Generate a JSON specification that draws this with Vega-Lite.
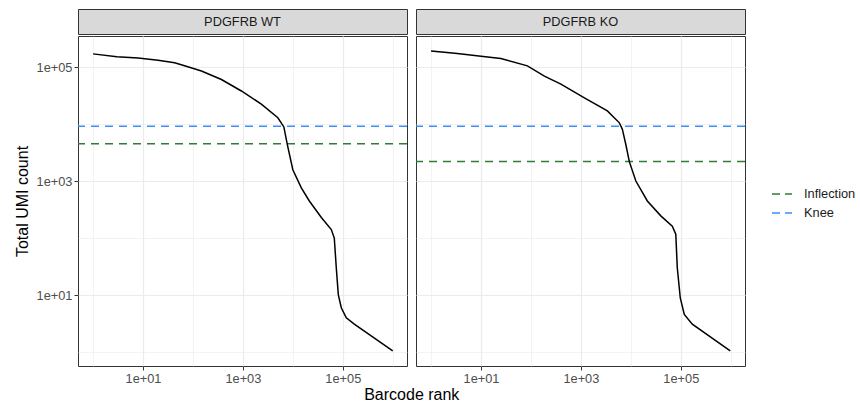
{
  "$schema": "https://vega.github.io/schema/vega-lite/v6.json",
  "background": "white",
  "padding": {"left": 13, "top": 8, "right": 0, "bottom": 0},
  "config": {
    "font": "Liberation Sans",
    "view": {"stroke": "#333333", "strokeWidth": 1},
    "axis": {
      "domain": false,
      "labelFont": "Liberation Sans",
      "labelFontSize": 12.8,
      "labelColor": "#4D4D4D",
      "tickColor": "#333333",
      "tickSize": 4,
      "labelPadding": 2,
      "titleFont": "Liberation Sans",
      "titleFontSize": 16,
      "titleFontWeight": "normal",
      "titleColor": "#000000",
      "gridColor": "#EBEBEB"
    }
  },
  "datasets": {
    "curve": [
      {"panel": "PDGFRB WT", "rank": 1, "umi": 170000},
      {"panel": "PDGFRB WT", "rank": 3, "umi": 151000},
      {"panel": "PDGFRB WT", "rank": 8, "umi": 144000},
      {"panel": "PDGFRB WT", "rank": 20, "umi": 132000},
      {"panel": "PDGFRB WT", "rank": 43, "umi": 119000},
      {"panel": "PDGFRB WT", "rank": 68, "umi": 105000},
      {"panel": "PDGFRB WT", "rank": 148, "umi": 85100},
      {"panel": "PDGFRB WT", "rank": 372, "umi": 60300},
      {"panel": "PDGFRB WT", "rank": 933, "umi": 38000},
      {"panel": "PDGFRB WT", "rank": 2340, "umi": 22400},
      {"panel": "PDGFRB WT", "rank": 5010, "umi": 12900},
      {"panel": "PDGFRB WT", "rank": 6610, "umi": 8900},
      {"panel": "PDGFRB WT", "rank": 7760, "umi": 4370},
      {"panel": "PDGFRB WT", "rank": 10000, "umi": 1580},
      {"panel": "PDGFRB WT", "rank": 14800, "umi": 760},
      {"panel": "PDGFRB WT", "rank": 21400, "umi": 447},
      {"panel": "PDGFRB WT", "rank": 37200, "umi": 229},
      {"panel": "PDGFRB WT", "rank": 58900, "umi": 141},
      {"panel": "PDGFRB WT", "rank": 67600, "umi": 100},
      {"panel": "PDGFRB WT", "rank": 74100, "umi": 30.2},
      {"panel": "PDGFRB WT", "rank": 81300, "umi": 10.2},
      {"panel": "PDGFRB WT", "rank": 93300, "umi": 6.0},
      {"panel": "PDGFRB WT", "rank": 117500, "umi": 3.98},
      {"panel": "PDGFRB WT", "rank": 170000, "umi": 3.09},
      {"panel": "PDGFRB WT", "rank": 1000000, "umi": 1.05},
      {"panel": "PDGFRB KO", "rank": 1, "umi": 190500},
      {"panel": "PDGFRB KO", "rank": 3, "umi": 173800},
      {"panel": "PDGFRB KO", "rank": 5, "umi": 166000},
      {"panel": "PDGFRB KO", "rank": 10, "umi": 154900},
      {"panel": "PDGFRB KO", "rank": 25, "umi": 141300},
      {"panel": "PDGFRB KO", "rank": 85, "umi": 104700},
      {"panel": "PDGFRB KO", "rank": 186, "umi": 69200},
      {"panel": "PDGFRB KO", "rank": 398, "umi": 50100},
      {"panel": "PDGFRB KO", "rank": 1175, "umi": 28800},
      {"panel": "PDGFRB KO", "rank": 3390, "umi": 17000},
      {"panel": "PDGFRB KO", "rank": 5890, "umi": 10500},
      {"panel": "PDGFRB KO", "rank": 6760, "umi": 8130},
      {"panel": "PDGFRB KO", "rank": 7940, "umi": 4370},
      {"panel": "PDGFRB KO", "rank": 9330, "umi": 2190},
      {"panel": "PDGFRB KO", "rank": 12600, "umi": 1000},
      {"panel": "PDGFRB KO", "rank": 21400, "umi": 447},
      {"panel": "PDGFRB KO", "rank": 39800, "umi": 245},
      {"panel": "PDGFRB KO", "rank": 67600, "umi": 162},
      {"panel": "PDGFRB KO", "rank": 79400, "umi": 117},
      {"panel": "PDGFRB KO", "rank": 85100, "umi": 30.2},
      {"panel": "PDGFRB KO", "rank": 97700, "umi": 8.9},
      {"panel": "PDGFRB KO", "rank": 117500, "umi": 4.57},
      {"panel": "PDGFRB KO", "rank": 170000, "umi": 3.09},
      {"panel": "PDGFRB KO", "rank": 977000, "umi": 1.05}
    ],
    "cutoffs": [
      {"panel": "PDGFRB WT", "type": "Knee", "value": 9100},
      {"panel": "PDGFRB WT", "type": "Inflection", "value": 4500},
      {"panel": "PDGFRB KO", "type": "Knee", "value": 9100},
      {"panel": "PDGFRB KO", "type": "Inflection", "value": 2200}
    ]
  },
  "title": {
    "text": "Barcode rank",
    "orient": "bottom",
    "anchor": "middle",
    "fontSize": 16,
    "fontWeight": "normal",
    "color": "#000000",
    "font": "Liberation Sans",
    "offset": 2,
    "dx": -23
  },
  "columns": 2,
  "spacing": {"row": 0, "column": 5},
  "concat": [
    {
      "width": 329,
      "height": 25,
      "data": {"values": [{"panel": "PDGFRB WT"}]},
      "view": {"fill": "#D9D9D9", "stroke": "#333333"},
      "mark": {"type": "text", "fontSize": 12.8, "color": "#1A1A1A", "font": "Liberation Sans"},
      "encoding": {"text": {"field": "panel", "type": "nominal"}}
    },
    {
      "width": 329,
      "height": 25,
      "data": {"values": [{"panel": "PDGFRB KO"}]},
      "view": {"fill": "#D9D9D9", "stroke": "#333333"},
      "mark": {"type": "text", "fontSize": 12.8, "color": "#1A1A1A", "font": "Liberation Sans"},
      "encoding": {"text": {"field": "panel", "type": "nominal"}}
    },
    {
      "width": 329,
      "height": 330,
      "view": {"fill": "white", "stroke": "#333333"},
      "layer": [
        {
          "data": {"name": "cutoffs"},
          "transform": [{"filter": "datum.panel === 'PDGFRB WT'"}],
          "mark": {"type": "rule", "strokeDash": [8, 6], "strokeWidth": 1.5},
          "encoding": {
            "y": {
              "field": "value", "type": "quantitative",
              "scale": {"type": "log", "domain": [0.57, 350000], "nice": false},
              "axis": {
                "title": "Total UMI count",
                "titlePadding": 6,
                "values": [1, 10, 100, 1000, 10000, 100000],
                "labelExpr": "round(log(datum.value)/LN10) % 2 == 1 ? replace(format(datum.value, '.0e'), '+', '+0') : ''",
                "tickColor": {"condition": {"test": "round(log(datum.value)/LN10) % 2 == 1", "value": "#333333"}, "value": "transparent"},
                "gridWidth": {"condition": {"test": "round(log(datum.value)/LN10) % 2 == 1", "value": 1.2}, "value": 0.6}
              }
            },
            "color": {
              "field": "type", "type": "nominal",
              "scale": {"domain": ["Inflection", "Knee"], "range": ["#2E7D32", "#3D8EF5"]},
              "legend": {
                "title": null,
                "orient": "none",
                "legendX": 693,
                "legendY": 174,
                "symbolType": "stroke",
                "symbolDash": [8, 5],
                "symbolStrokeWidth": 1.5,
                "symbolSize": 400,
                "labelFontSize": 12.8,
                "labelColor": "#1A1A1A",
                "labelFont": "Liberation Sans",
                "labelOffset": 11,
                "rowPadding": 1
              }
            }
          }
        },
        {
          "data": {"name": "curve"},
          "transform": [{"filter": "datum.panel === 'PDGFRB WT'"}],
          "mark": {"type": "line", "color": "black", "strokeWidth": 1.5, "clip": true},
          "encoding": {
            "x": {
              "field": "rank", "type": "quantitative",
              "scale": {"type": "log", "domain": [0.5, 1930000], "nice": false},
              "axis": {
                "title": null,
                "values": [1, 10, 100, 1000, 10000, 100000, 1000000],
                "labelExpr": "round(log(datum.value)/LN10) % 2 == 1 ? replace(format(datum.value, '.0e'), '+', '+0') : ''",
                "tickColor": {"condition": {"test": "round(log(datum.value)/LN10) % 2 == 1", "value": "#333333"}, "value": "transparent"},
                "gridWidth": {"condition": {"test": "round(log(datum.value)/LN10) % 2 == 1", "value": 1.2}, "value": 0.6}
              }
            },
            "y": {
              "field": "umi", "type": "quantitative",
              "scale": {"type": "log", "domain": [0.57, 350000], "nice": false},
              "axis": {
                "title": "Total UMI count",
                "titlePadding": 6,
                "values": [1, 10, 100, 1000, 10000, 100000],
                "labelExpr": "round(log(datum.value)/LN10) % 2 == 1 ? replace(format(datum.value, '.0e'), '+', '+0') : ''",
                "tickColor": {"condition": {"test": "round(log(datum.value)/LN10) % 2 == 1", "value": "#333333"}, "value": "transparent"},
                "gridWidth": {"condition": {"test": "round(log(datum.value)/LN10) % 2 == 1", "value": 1.2}, "value": 0.6}
              }
            }
          }
        }
      ]
    },
    {
      "width": 329,
      "height": 330,
      "view": {"fill": "white", "stroke": "#333333"},
      "layer": [
        {
          "data": {"name": "cutoffs"},
          "transform": [{"filter": "datum.panel === 'PDGFRB KO'"}],
          "mark": {"type": "rule", "strokeDash": [8, 6], "strokeWidth": 1.5},
          "encoding": {
            "y": {
              "field": "value", "type": "quantitative",
              "scale": {"type": "log", "domain": [0.57, 350000], "nice": false},
              "axis": {
                "title": null, "labels": false, "ticks": false, "domain": false,
                "minExtent": 0, "maxExtent": 0,
                "values": [1, 10, 100, 1000, 10000, 100000],
                "gridWidth": {"condition": {"test": "round(log(datum.value)/LN10) % 2 == 1", "value": 1.2}, "value": 0.6}
              }
            },
            "color": {
              "field": "type", "type": "nominal",
              "scale": {"domain": ["Inflection", "Knee"], "range": ["#2E7D32", "#3D8EF5"]}
            }
          }
        },
        {
          "data": {"name": "curve"},
          "transform": [{"filter": "datum.panel === 'PDGFRB KO'"}],
          "mark": {"type": "line", "color": "black", "strokeWidth": 1.5, "clip": true},
          "encoding": {
            "x": {
              "field": "rank", "type": "quantitative",
              "scale": {"type": "log", "domain": [0.5, 1930000], "nice": false},
              "axis": {
                "title": null,
                "values": [1, 10, 100, 1000, 10000, 100000, 1000000],
                "labelExpr": "round(log(datum.value)/LN10) % 2 == 1 ? replace(format(datum.value, '.0e'), '+', '+0') : ''",
                "tickColor": {"condition": {"test": "round(log(datum.value)/LN10) % 2 == 1", "value": "#333333"}, "value": "transparent"},
                "gridWidth": {"condition": {"test": "round(log(datum.value)/LN10) % 2 == 1", "value": 1.2}, "value": 0.6}
              }
            },
            "y": {
              "field": "umi", "type": "quantitative",
              "scale": {"type": "log", "domain": [0.57, 350000], "nice": false},
              "axis": {
                "title": null, "labels": false, "ticks": false, "domain": false,
                "minExtent": 0, "maxExtent": 0,
                "values": [1, 10, 100, 1000, 10000, 100000],
                "gridWidth": {"condition": {"test": "round(log(datum.value)/LN10) % 2 == 1", "value": 1.2}, "value": 0.6}
              }
            }
          }
        }
      ]
    }
  ]
}
